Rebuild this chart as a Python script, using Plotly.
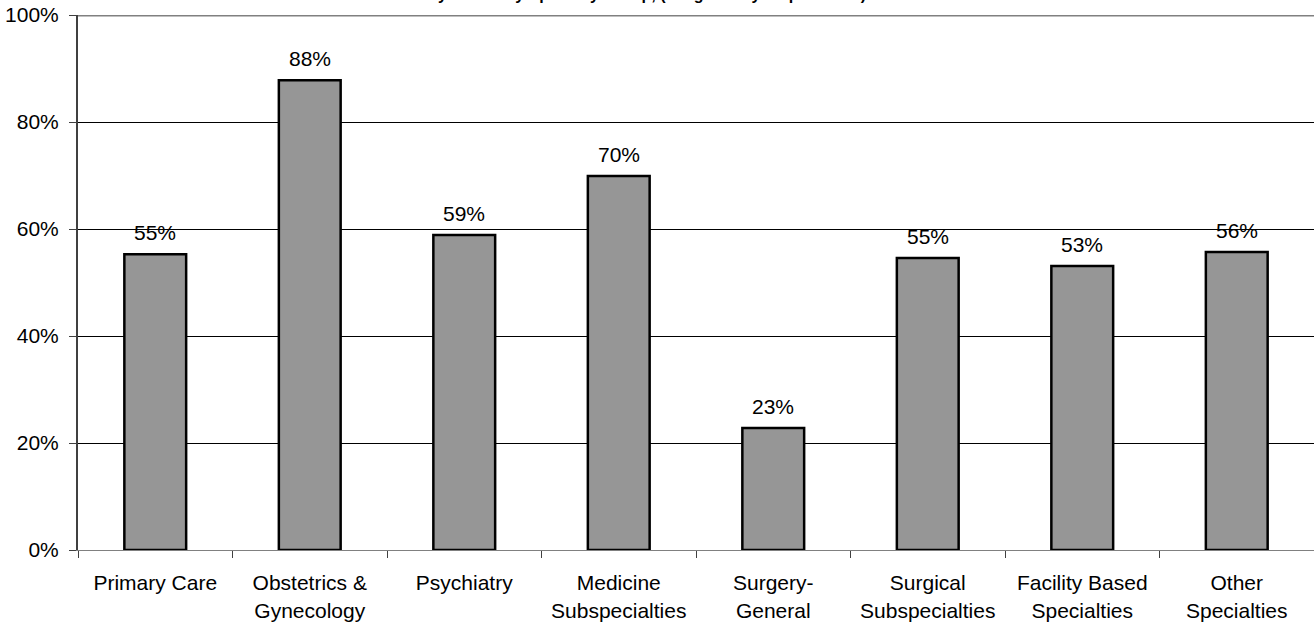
import plotly.graph_objects as go

categories = ["Primary Care", "Obstetrics &<br>Gynecology", "Psychiatry", "Medicine<br>Subspecialties",
              "Surgery-<br>General", "Surgical<br>Subspecialties", "Facility Based<br>Specialties", "Other<br>Specialties"]
values = [0.553, 0.878, 0.589, 0.699, 0.228, 0.546, 0.531, 0.557]
labels = ["55%", "88%", "59%", "70%", "23%", "55%", "53%", "56%"]
title_text = "Percent of Physicians by Specialty Group, (Weighted by respondents)"

FONT = "Liberation Sans, Arial, sans-serif"

fig = go.Figure()
fig.add_trace(go.Bar(
    x=categories, y=values, width=0.4,
    marker=dict(color="#969696", line=dict(color="black", width=2.5)),
    hoverinfo="skip",
))

for c, v, t in zip(categories, values, labels):
    fig.add_annotation(x=c, y=v, text=t, showarrow=False, yanchor="bottom", yshift=8,
                       font=dict(family=FONT, size=21, color="black"))

fig.update_layout(
    width=1314, height=626,
    margin=dict(l=78, r=0, t=15, b=76),
    plot_bgcolor="white", paper_bgcolor="white",
    showlegend=False, bargap=0.6,
    font=dict(family=FONT, size=21, color="black"),
    title=dict(text="<b>" + title_text + "</b>", x=0.457, xanchor="center",
               yref="container", y=0.9995, yanchor="bottom",
               font=dict(family=FONT, size=16, color="black")),
)
fig.update_xaxes(
    showline=True, linecolor="#808080", linewidth=1,
    ticks="outside", tickson="boundaries", ticklen=7, tickcolor="#404040",
    showgrid=False, tickfont=dict(size=21), ticklabelstandoff=14,
)
fig.update_yaxes(
    range=[0, 1], tickvals=[0, 0.2, 0.4, 0.6, 0.8, 1.0],
    ticktext=["0%", "20%", "40%", "60%", "80%", "100%"],
    showgrid=True, gridcolor="black", gridwidth=1,
    showline=True, linecolor="#404040", linewidth=2,
    ticks="outside", ticklen=7, tickcolor="#404040",
    tickfont=dict(size=21), zeroline=False, ticklabelstandoff=6,
)
fig.add_shape(type="line", xref="paper", yref="y", x0=0, x1=1, y0=1, y1=1,
              line=dict(color="#808080", width=3))

fig.write_html("out.html")
